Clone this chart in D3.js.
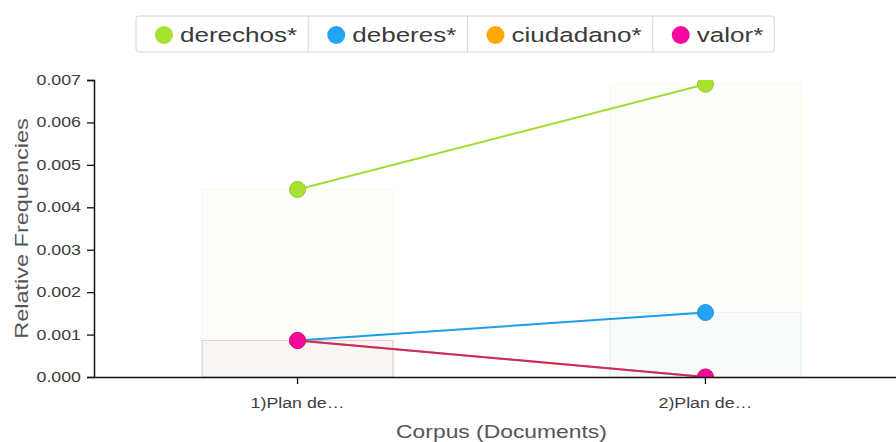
<!DOCTYPE html>
<html>
<head>
<meta charset="utf-8">
<script src="https://cdn.jsdelivr.net/npm/d3@7"></script>
<style>
    body { margin: 0; background: #fff; }
    svg { display: block; font-family: "Liberation Sans", Arial, sans-serif; }
</style>
</head>
<body>
<div id="chart"></div>
<script>
// Data
const documents = ['1)Plan de…', '2)Plan de…'];
const terms = ['derechos*', 'deberes*', 'ciudadano*', 'valor*'];
const derechos = [0.00442, 0.00690];
const deberes = [0.00086, 0.00152];
const ciudadano = [0.00086, 0.0];
const valor = [0.00086, 0.0];
const yTicks = [0, 0.001, 0.002, 0.003, 0.004, 0.005, 0.006, 0.007];
const termColors = ['#a7e22f', '#21a5f3', '#ffa800', '#f5089b'];
const lineColors = ['#a2dc30', '#1f9de8', '#ffa800', '#c8286f'];

const series = terms.map((t, i) => ({
    term: t,
    color: termColors[i],
    lineColor: lineColors[i],
    values: [derechos, deberes, ciudadano, valor][i]
}));

// The text in the reference is wider than plain Arial
const WIDE = 1.27;
function widen(sel) {
    sel.each(function() {
        const t = d3.select(this);
        const x = +t.attr('x') || 0, y = +t.attr('y') || 0;
        const base = t.attr('transform') || '';
        t.attr('transform', `${base} translate(${x},${y}) scale(${WIDE},1) translate(${-x},${-y})`);
    });
}

const width = 896, height = 442;
const margin = { top: 80, right: -13, bottom: 65, left: 94 };

const svg = d3.select('#chart').append('svg')
    .attr('width', width)
    .attr('height', height);

const x = d3.scaleBand()
    .domain(documents)
    .range([margin.left, width - margin.right])
    .paddingInner(0.532)
    .paddingOuter(0.265);

const y = d3.scaleLinear()
    .domain([0, 0.007])
    .range([height - margin.bottom, margin.top]);

const plotBottom = y(0), plotTop = y(0.007);

svg.append('clipPath').attr('id', 'plot-clip')
    .append('rect')
    .attr('x', margin.left)
    .attr('y', plotTop)
    .attr('width', width - margin.left)
    .attr('height', plotBottom - plotTop);

const plot = svg.append('g').attr('clip-path', 'url(#plot-clip)');

// Faint bars behind the lines
series.forEach(s => {
    plot.append('g').selectAll('rect')
        .data(s.values.map((v, i) => ({ doc: documents[i], v })))
        .join('rect')
        .attr('x', d => x(d.doc))
        .attr('y', d => y(d.v))
        .attr('width', x.bandwidth())
        .attr('height', d => plotBottom - y(d.v))
        .attr('fill', s.color)
        .attr('fill-opacity', 0.018)
        .attr('stroke', s.color)
        .attr('stroke-opacity', 0.11)
        .attr('stroke-width', 1);
});

const line = d3.line()
    .x((d, i) => x(documents[i]) + x.bandwidth() / 2)
    .y(d => y(d));

series.forEach(s => {
    plot.append('path')
        .datum(s.values)
        .attr('fill', 'none')
        .attr('stroke', s.lineColor)
        .attr('stroke-width', 2)
        .attr('d', line);
});

series.forEach(s => {
    plot.append('g').selectAll('circle')
        .data(s.values)
        .join('circle')
        .attr('cx', (d, i) => x(documents[i]) + x.bandwidth() / 2)
        .attr('cy', d => y(d))
        .attr('r', 8)
        .attr('fill', s.color)
        .attr('stroke', d3.color(s.color).darker(0.3))
        .attr('stroke-width', 1);
});

// Axes
const yAxis = svg.append('g')
    .attr('transform', `translate(${margin.left},0)`)
    .call(d3.axisLeft(y).tickValues(yTicks).tickFormat(d3.format('.3f')).tickSize(7).tickPadding(6));

const xAxis = svg.append('g')
    .attr('transform', `translate(0,${plotBottom})`)
    .call(d3.axisBottom(x).tickSize(7).tickSizeOuter(0).tickPadding(14));

[yAxis, xAxis].forEach(ax => {
    ax.select('.domain').attr('stroke', '#111').attr('stroke-width', 1.5);
    ax.selectAll('.tick line').attr('stroke', '#111').attr('stroke-width', 1.3);
    ax.selectAll('.tick text')
        .attr('fill', '#3c3c3c')
        .style('font-family', '"Liberation Sans", Arial, sans-serif')
        .style('font-size', '14px');
});
widen(yAxis.selectAll('.tick text'));
widen(xAxis.selectAll('.tick text'));

// Axis titles
const yTitle = svg.append('text')
    .attr('transform', 'rotate(-90)')
    .attr('x', -(plotTop + plotBottom) / 2)
    .attr('y', 28)
    .attr('text-anchor', 'middle')
    .attr('fill', '#555')
    .style('font-size', '18.5px')
    .text('Relative Frequencies');
widen(yTitle);

const xTitle = svg.append('text')
    .attr('x', (margin.left + width - margin.right) / 2)
    .attr('y', 438)
    .attr('text-anchor', 'middle')
    .attr('fill', '#555')
    .style('font-size', '18px')
    .text('Corpus (Documents)');
widen(xTitle);

// Legend
const legend = svg.append('g').attr('transform', 'translate(136,16)');
const legendH = 36;
const box = legend.append('rect')
    .attr('height', legendH)
    .attr('rx', 3)
    .attr('fill', '#fff')
    .attr('stroke', '#d4d4d4')
    .attr('stroke-width', 1);

let cx = 0;
series.forEach((s, i) => {
    const cell = legend.append('g').attr('transform', `translate(${cx},0)`);
    cell.append('circle')
        .attr('cx', 28)
        .attr('cy', legendH / 2 + 1)
        .attr('r', 9)
        .attr('fill', s.color);
    const label = cell.append('text')
        .attr('x', 44)
        .attr('y', legendH / 2 + 8)
        .attr('fill', '#3a3a3a')
        .style('font-size', '20.5px')
        .text(s.term);
    const w = label.node().getComputedTextLength() * WIDE;
    widen(label);
    const cellW = 55 + w;
    if (i > 0) {
        legend.append('line')
            .attr('x1', cx).attr('x2', cx)
            .attr('y1', 0).attr('y2', legendH)
            .attr('stroke', '#d4d4d4');
    }
    cx += cellW;
});
box.attr('width', cx);
</script>
</body>
</html>
